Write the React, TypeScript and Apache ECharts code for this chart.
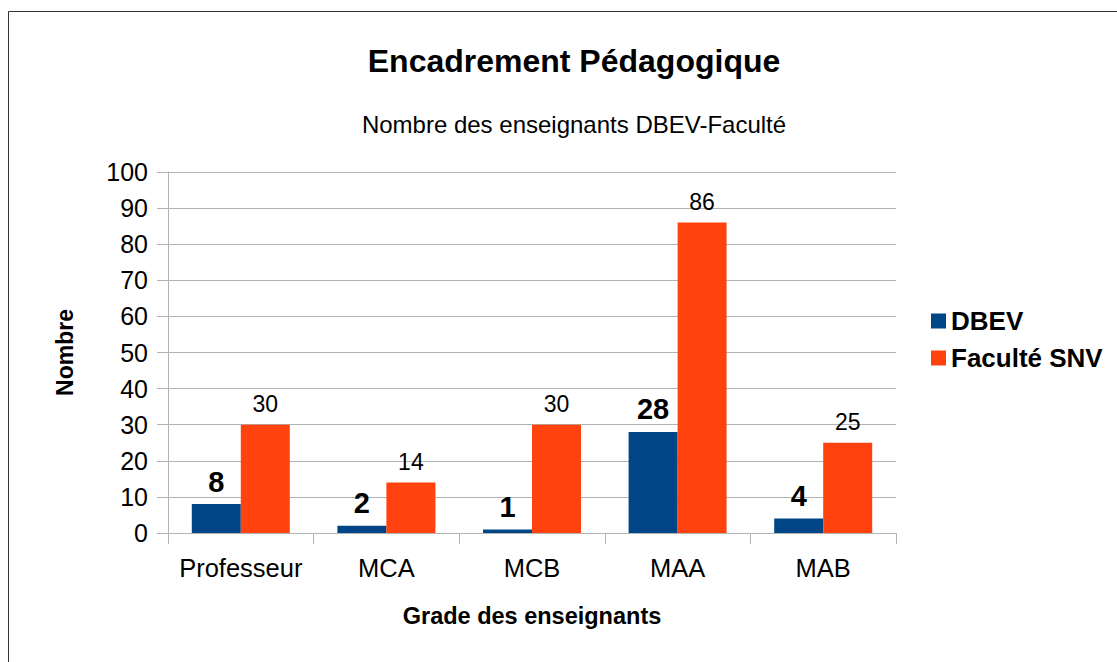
import React, { useEffect, useRef } from "react";
import * as echarts from "echarts";

const categories = ["Professeur", "MCA", "MCB", "MAA", "MAB"];
const dbev = [8, 2, 1, 28, 4];
const faculte = [30, 14, 30, 86, 25];
const seriesNames = ["DBEV", "Faculté SNV"];
const FONT = "'Liberation Sans', Arial, sans-serif";

export default function App() {
  const ref = useRef<HTMLDivElement>(null);
  useEffect(() => {
    const chart = echarts.init(ref.current!, null, { renderer: "svg" });
    chart.setOption({
      animation: false,
      textStyle: { fontFamily: FONT },
      title: [
        {
          text: "Encadrement Pédagogique",
          left: 569,
          top: 40,
          textAlign: "center",
          textStyle: { fontFamily: FONT, fontSize: 32, fontWeight: "bold", color: "#000" },
        },
        {
          text: "Nombre des enseignants DBEV-Faculté",
          left: 569,
          top: 107,
          textAlign: "center",
          textStyle: { fontFamily: FONT, fontSize: 24, fontWeight: "normal", color: "#000" },
        },
      ],
      graphic: [
        {
          type: "rect",
          shape: { x: 8.5, y: 11.5, width: 1200, height: 800 },
          style: { fill: "none", stroke: "#333", lineWidth: 1 },
          silent: true,
        },
      ],
      legend: {
        orient: "vertical",
        left: 926,
        top: 303,
        itemWidth: 15,
        itemHeight: 15,
        itemGap: 11,
        icon: "rect",
        data: seriesNames,
        textStyle: { fontFamily: FONT, fontSize: 26, fontWeight: "bold", color: "#000" },
      },
      grid: { left: 168, top: 172, width: 728, height: 361, containLabel: false },
      xAxis: {
        type: "category",
        data: categories,
        name: "Grade des enseignants",
        nameLocation: "middle",
        nameGap: 71,
        nameTextStyle: { fontFamily: FONT, fontSize: 23.5, fontWeight: "bold", color: "#000" },
        axisLine: { lineStyle: { color: "#b3b3b3", width: 1 } },
        axisTick: { show: true, length: 11, lineStyle: { color: "#b3b3b3" } },
        axisLabel: { fontFamily: FONT, fontSize: 25.5, color: "#000", margin: 22, interval: 0 },
      },
      yAxis: {
        type: "value",
        min: 0,
        max: 100,
        interval: 10,
        name: "Nombre",
        nameLocation: "middle",
        nameGap: 92,
        nameRotate: 90,
        nameTextStyle: { fontFamily: FONT, fontSize: 23, fontWeight: "bold", color: "#000" },
        axisLine: { show: true, lineStyle: { color: "#b3b3b3", width: 1 } },
        axisTick: { show: true, length: 11, lineStyle: { color: "#b3b3b3" } },
        axisLabel: { fontFamily: FONT, fontSize: 25, color: "#000", margin: 20 },
        splitLine: { lineStyle: { color: "#b3b3b3", width: 1 } },
      },
      series: [
        {
          name: seriesNames[0],
          type: "bar",
          data: dbev,
          barWidth: 49,
          barGap: "0%",
          itemStyle: { color: "#004586" },
          label: {
            show: true,
            position: "top",
            distance: 8,
            fontFamily: FONT,
            fontSize: 29,
            fontWeight: "bold",
            color: "#000",
          },
        },
        {
          name: seriesNames[1],
          type: "bar",
          data: faculte,
          barWidth: 49,
          barGap: "0%",
          itemStyle: { color: "#ff420e" },
          label: {
            show: true,
            position: "top",
            distance: 9,
            fontFamily: FONT,
            fontSize: 23,
            color: "#000",
          },
        },
      ],
    });
    return () => chart.dispose();
  }, []);
  return (
    <div
      ref={ref}
      style={{ position: "fixed", left: 0, top: 0, width: 1117, height: 662, background: "#fff" }}
    />
  );
}
